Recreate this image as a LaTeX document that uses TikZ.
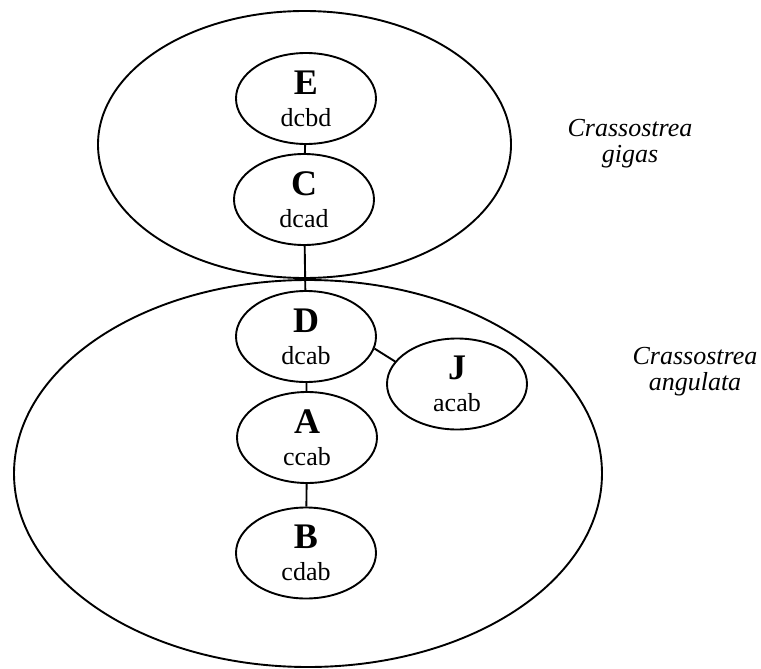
\documentclass[tikz,border=0pt]{standalone}
\usepackage{fontspec}
\setmainfont{Liberation Serif}
\usepackage{tikz}
\usetikzlibrary{shapes.geometric}

\newcommand{\haplo}[2]{{\fontsize{36}{36}\selectfont\bfseries #1}\\#2}

\begin{document}
\begin{tikzpicture}[x=1pt,y=-1pt,line width=1.9pt,
	hap/.style={ellipse,draw,minimum width=140pt,minimum height=91pt,inner sep=0pt,
		align=center,font=\fontsize{26}{32}\selectfont},
	species/.style={font=\fontsize{26}{26}\selectfont\itshape,align=center}]
	\useasboundingbox (0,0) rectangle (761,669);
	
	\draw (304.5,144.5) ellipse [x radius=206.5,y radius=133.5];
	\draw (308,473.5) ellipse [x radius=294,y radius=193.5];
	
	\node[hap] (E) at (306,98.5) {\haplo{E}{dcbd}};
	\node[hap] (C) at (304,199.5) {\haplo{C}{dcad}};
	\node[hap] (D) at (306,336.5) {\haplo{D}{dcab}};
	\node[hap] (J) at (457,384) {\haplo{J}{acab}};
	\node[hap] (A) at (307,437.5) {\haplo{A}{ccab}};
	\node[hap] (B) at (306,553) {\haplo{B}{cdab}};
	
	\draw (E) -- (C);
	\draw (C) -- (D);
	\draw (D) -- (A);
	\draw (A) -- (B);
	\draw (D.-10) -- (J.160);
	
	\node[species] (gigas) at (630,144) {Crassostrea\\gigas};
	\node[species] (angulata) at (695,372) {Crassostrea\\angulata};
	
\end{tikzpicture}
\end{document}
